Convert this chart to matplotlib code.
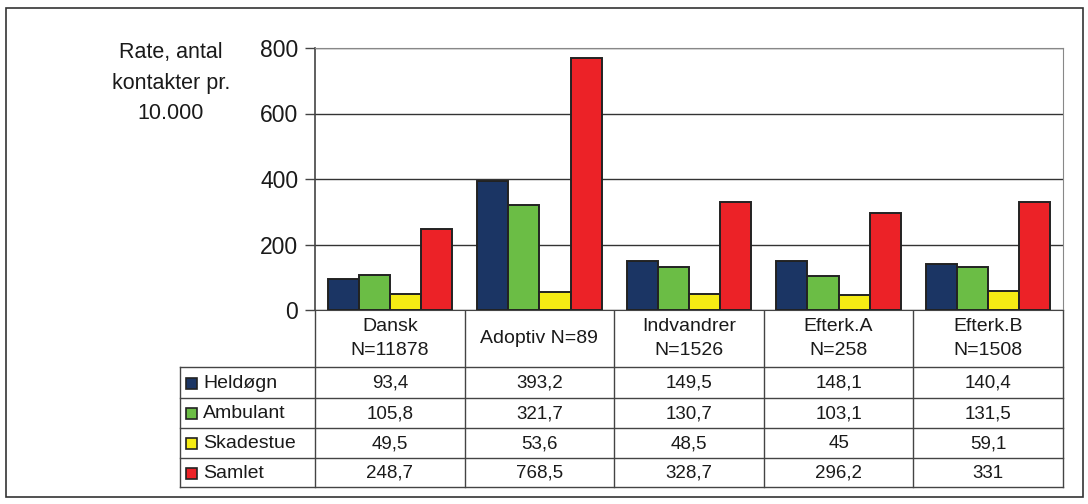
import matplotlib
matplotlib.use("Agg")
import matplotlib.pyplot as plt
from matplotlib.patches import Rectangle

plt.rcParams['font.family'] = ['Liberation Sans', 'DejaVu Sans']

categories = ["Dansk\nN=11878", "Adoptiv N=89", "Indvandrer\nN=1526", "Efterk.A\nN=258", "Efterk.B\nN=1508"]
series = ["Heldøgn", "Ambulant", "Skadestue", "Samlet"]
heldogn = [93.4, 393.2, 149.5, 148.1, 140.4]
ambulant = [105.8, 321.7, 130.7, 103.1, 131.5]
skadestue = [49.5, 53.6, 48.5, 45, 59.1]
samlet = [248.7, 768.5, 328.7, 296.2, 331]
table_text = [
    ["93,4", "393,2", "149,5", "148,1", "140,4"],
    ["105,8", "321,7", "130,7", "103,1", "131,5"],
    ["49,5", "53,6", "48,5", "45", "59,1"],
    ["248,7", "768,5", "328,7", "296,2", "331"],
]
colors = ["#1B3564", "#6BBD45", "#F5EB14", "#EC2227"]
yticks = [0, 200, 400, 600, 800]

W, H = 1088, 504
fig = plt.figure(figsize=(W / 100, H / 100), dpi=100)
txt = "#1a1a1a"

# pixel-space overlay for frame and table
ov = fig.add_axes([0, 0, 1, 1])
ov.set_xlim(0, W)
ov.set_ylim(H, 0)
ov.axis("off")

left, right, top, bottom = 315, 1063, 48, 310
ax = fig.add_axes([left / W, 1 - bottom / H, (right - left) / W, (bottom - top) / H])

values = [heldogn, ambulant, skadestue, samlet]
n = len(categories)
bw = 0.208
for j, vals in enumerate(values):
    xs = [i + (j - 1.5) * bw for i in range(n)]
    ax.bar(xs, vals, width=bw, color=colors[j], edgecolor="#222222", linewidth=1.4, zorder=3)

ax.set_xlim(-0.5, n - 0.5)
ax.set_ylim(0, 800)
ax.set_yticks(yticks)
ax.set_yticklabels([str(t) for t in yticks], fontsize=16.5, color=txt)
ax.tick_params(axis="y", length=7, width=1, color="#444444", pad=5)
ax.set_xticks([])
ax.grid(axis="y", color="#333333", linewidth=1, zorder=0)
for s in ["top", "right"]:
    ax.spines[s].set_color("#888888")
ax.spines["left"].set_color("#444444")
ax.spines["left"].set_linewidth(1.2)
ax.spines["bottom"].set_color("#444444")

# y label
ov.text(171, 83, "Rate, antal\nkontakter pr.\n10.000", ha="center", va="center",
        fontsize=15.5, color=txt, linespacing=1.6)

# outer frame
ov.add_patch(Rectangle((6, 8), 1077, 489, fill=False, edgecolor="#333333", linewidth=1.2))

# table
cw = (right - left) / n
lc = "#444444"
row_y = [367, 398, 428, 458, 487]
for i in range(n + 1):
    x = left + i * cw
    ov.plot([x, x], [bottom, row_y[-1]], color=lc, linewidth=1)
ov.plot([180, 180], [row_y[0], row_y[-1]], color=lc, linewidth=1)
for y in row_y:
    ov.plot([180, right], [y, y], color=lc, linewidth=1)

for i, c in enumerate(categories):
    ov.text(left + (i + 0.5) * cw, (bottom + row_y[0]) / 2, c, ha="center", va="center",
            fontsize=14, color=txt, linespacing=1.5)

for r in range(len(series)):
    yc = (row_y[r] + row_y[r + 1]) / 2
    ov.add_patch(Rectangle((186, yc - 5), 11, 11, facecolor=colors[r], edgecolor="#222222", linewidth=1.2))
    ov.text(203, yc + 1, series[r], ha="left", va="center", fontsize=14, color=txt)
    for i in range(n):
        ov.text(left + (i + 0.5) * cw, yc + 1, table_text[r][i], ha="center", va="center",
                fontsize=13.5, color=txt)

fig.savefig("out.png", dpi=100)
